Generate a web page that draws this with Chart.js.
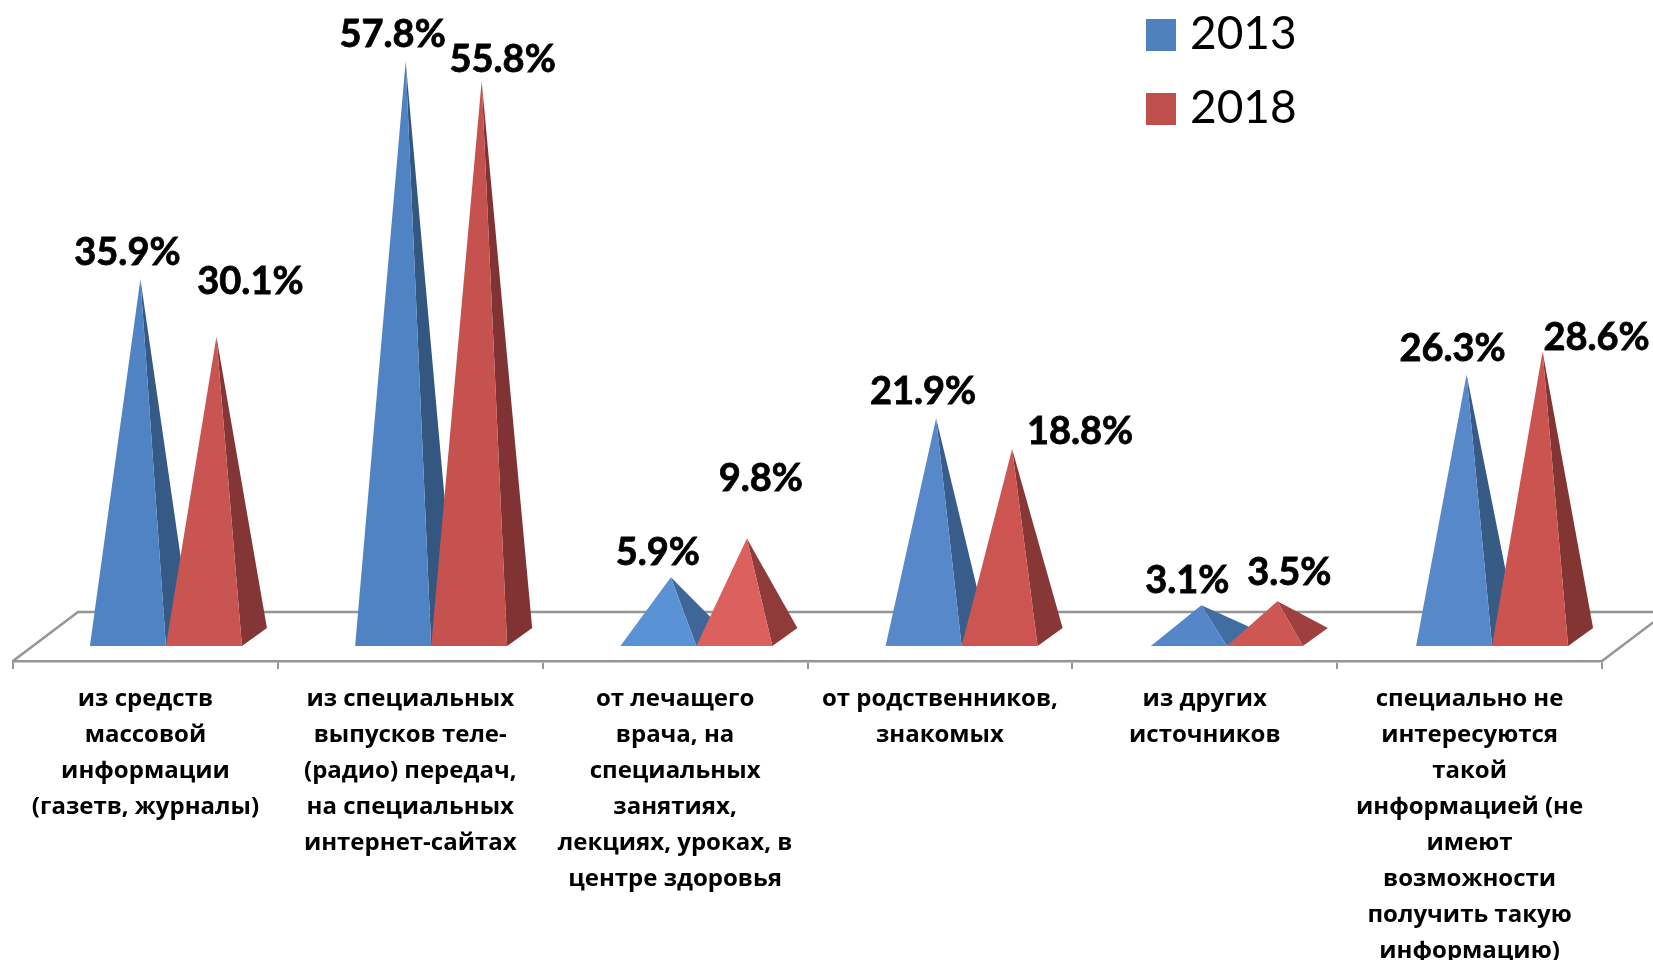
<!DOCTYPE html>
<html>
<head>
<meta charset="utf-8">
<style>
  body { margin: 0; background: #fff; }
  canvas { display: block; }
</style>
<script src="https://cdn.jsdelivr.net/npm/chart.js@4/dist/chart.umd.js"></script>
</head>
<body>
<canvas id="chart" width="1653" height="960"></canvas>
<script>
const categories = [
    ['из средств', 'массовой', 'информации', '(газетв, журналы)'],
    ['из специальных', 'выпусков теле-', '(радио) передач,', 'на специальных', 'интернет-сайтах'],
    ['от лечащего', 'врача, на', 'специальных', 'занятиях,', 'лекциях, уроках, в', 'центре здоровья'],
    ['от родственников,', 'знакомых'],
    ['из других', 'источников'],
    ['специально не', 'интересуются', 'такой', 'информацией (не', 'имеют', 'возможности', 'получить такую', 'информацию)'],
];
const values2013 = [35.9, 57.8, 5.9, 21.9, 3.1, 26.3];
const values2018 = [30.1, 55.8, 9.8, 18.8, 3.5, 28.6];

// face colours differ a little per pyramid, like the lighting in the original
const front2013 = ['#5083c3', '#5083c3', '#5a92d6', '#5688ca', '#5587c8', '#5688ca'];
const side2013 = ['#355a85', '#345782', '#3e6698', '#385d8a', '#406ea2', '#385b86'];
const front2018 = ['#c85552', '#c6524f', '#dc605e', '#cc5552', '#cc5753', '#cb5451'];
const side2018 = ['#843536', '#803332', '#8f3b3a', '#863736', '#a0403e', '#833534'];

// where each value label sits relative to the tip of its pyramid
const labelNudge2013 = [[-13, -26], [-13, -26], [-13, -25], [-13, -26], [-14, -24], [-14, -26]];
const labelNudge2018 = [[34, -55], [21, -21], [14, -60], [68, -17], [12, -28], [54, -14]];

const depthX = 25;
const depthY = 18;
const floorX = 65;
const floorY = 49;
const gray = '#959595';

// pyramids stand a bit in from the axis; the perspective also spreads them slightly
function floorOffset(i) {
    return 20.5 + i * 0.4;
}

class PyramidController extends Chart.BarController {
    draw() {
        // chart.js draws the last dataset first, but 2018 has to overlap 2013,
        // so the first dataset (called last) paints them all in reading order
        if (this.index !== 0) return;
        this.chart.data.datasets.forEach((dataset, d) => {
            this.chart.getDatasetMeta(d).controller.drawFaces();
        });
    }

    drawFaces() {
        const ctx = this.chart.ctx;
        const dataset = this.getDataset();
        this._cachedMeta.data.forEach((bar, i) => {
            const {x, y, base, width} = bar.getProps(['x', 'y', 'base', 'width'], true);
            // scale zero is the middle of the square base, so the front edge
            // is half a depth lower
            const left = x - width / 2 + floorOffset(i);
            const right = left + width;
            const frontY = base + depthY / 2 + 1;
            const tipX = x + floorOffset(i) + depthX / 2;

            ctx.fillStyle = dataset.sideColor[i];
            ctx.beginPath();
            ctx.moveTo(tipX, y);
            ctx.lineTo(right, frontY);
            ctx.lineTo(right + depthX, frontY - depthY);
            ctx.closePath();
            ctx.fill();

            ctx.fillStyle = bar.options.backgroundColor;
            ctx.beginPath();
            ctx.moveTo(tipX, y);
            ctx.lineTo(left, frontY);
            ctx.lineTo(right, frontY);
            ctx.closePath();
            ctx.fill();
        });
    }
}
PyramidController.id = 'pyramid';
PyramidController.defaults = Chart.BarController.defaults;
Chart.register(PyramidController);

// the 3D floor behind the pyramids
const floorPlugin = {
    id: 'floor',
    beforeDatasetsDraw(chart) {
        const {ctx, chartArea} = chart;
        const {left, right, bottom} = chartArea;
        ctx.save();
        ctx.strokeStyle = gray;
        ctx.lineWidth = 2.5;
        ctx.beginPath();
        ctx.moveTo(left, bottom);
        ctx.lineTo(left + floorX, bottom - floorY);
        ctx.lineTo(right + floorX, bottom - floorY);
        ctx.moveTo(right, bottom);
        ctx.lineTo(right + floorX, bottom - floorY);
        ctx.stroke();
        ctx.restore();
    },
};

const valueLabelPlugin = {
    id: 'valueLabels',
    afterDatasetsDraw(chart) {
        const ctx = chart.ctx;
        ctx.save();
        ctx.fillStyle = '#000';
        ctx.strokeStyle = '#000';
        ctx.lineWidth = 0.8; // Lato bold is lighter than the original's face
        ctx.font = 'bold 38px Lato, "Open Sans", sans-serif';
        ctx.textAlign = 'center';
        ctx.textBaseline = 'middle';
        chart.data.datasets.forEach((dataset, d) => {
            chart.getDatasetMeta(d).data.forEach((bar, i) => {
                const tipX = bar.x + floorOffset(i) + depthX / 2;
                const nudge = dataset.labelNudge[i];
                const text = dataset.data[i].toFixed(1) + '%';
                ctx.fillText(text, tipX + nudge[0], bar.y + nudge[1]);
                ctx.strokeText(text, tipX + nudge[0], bar.y + nudge[1]);
            });
        });
        ctx.restore();
    },
};

// legend stacked over the plot, built-in one can't get this close to the swatch
const legendPlugin = {
    id: 'sideLegend',
    afterDraw(chart) {
        const ctx = chart.ctx;
        ctx.save();
        ctx.font = '46px Lato, "Open Sans", sans-serif';
        ctx.textBaseline = 'middle';
        chart.data.datasets.forEach((dataset, d) => {
            const rowY = 35 + d * 74;
            ctx.fillStyle = dataset.legendColor;
            ctx.fillRect(1146, rowY - 16, 30, 32);
            ctx.fillStyle = '#000';
            ctx.fillText(dataset.label, 1190, rowY - 1);
        });
        ctx.restore();
    },
};

new Chart(document.getElementById('chart'), {
    type: 'pyramid',
    plugins: [floorPlugin, valueLabelPlugin, legendPlugin],
    data: {
        labels: categories,
        datasets: [
            {
                label: '2013',
                data: values2013,
                backgroundColor: front2013,
                sideColor: side2013,
                legendColor: '#4f81bd',
                labelNudge: labelNudge2013,
            },
            {
                label: '2018',
                data: values2018,
                backgroundColor: front2018,
                sideColor: side2018,
                legendColor: '#c0504d',
                labelNudge: labelNudge2018,
            },
        ],
    },
    options: {
        responsive: false,
        animation: false,
        categoryPercentage: 0.574,
        barPercentage: 1,
        layout: {padding: {left: 13, right: 51, top: 0, bottom: 0}},
        plugins: {
            legend: {display: false},
            tooltip: {enabled: false},
        },
        scales: {
            x: {
                type: 'category',
                offset: true,
                afterFit(scale) {
                    scale.height = 299;
                },
                grid: {
                    offset: true,
                    drawOnChartArea: false,
                    color: gray,
                    lineWidth: 2,
                    tickLength: 8,
                },
                border: {color: gray, width: 2.5},
                ticks: {
                    autoSkip: false,
                    maxRotation: 0,
                    padding: 12,
                    color: '#000',
                    font: {family: '"Open Sans"', weight: 'bold', size: 24, lineHeight: 1.5},
                },
            },
            y: {
                type: 'linear',
                display: false,
                min: -2.51,
                max: 63.95,
            },
        },
    },
});
</script>
</body>
</html>
